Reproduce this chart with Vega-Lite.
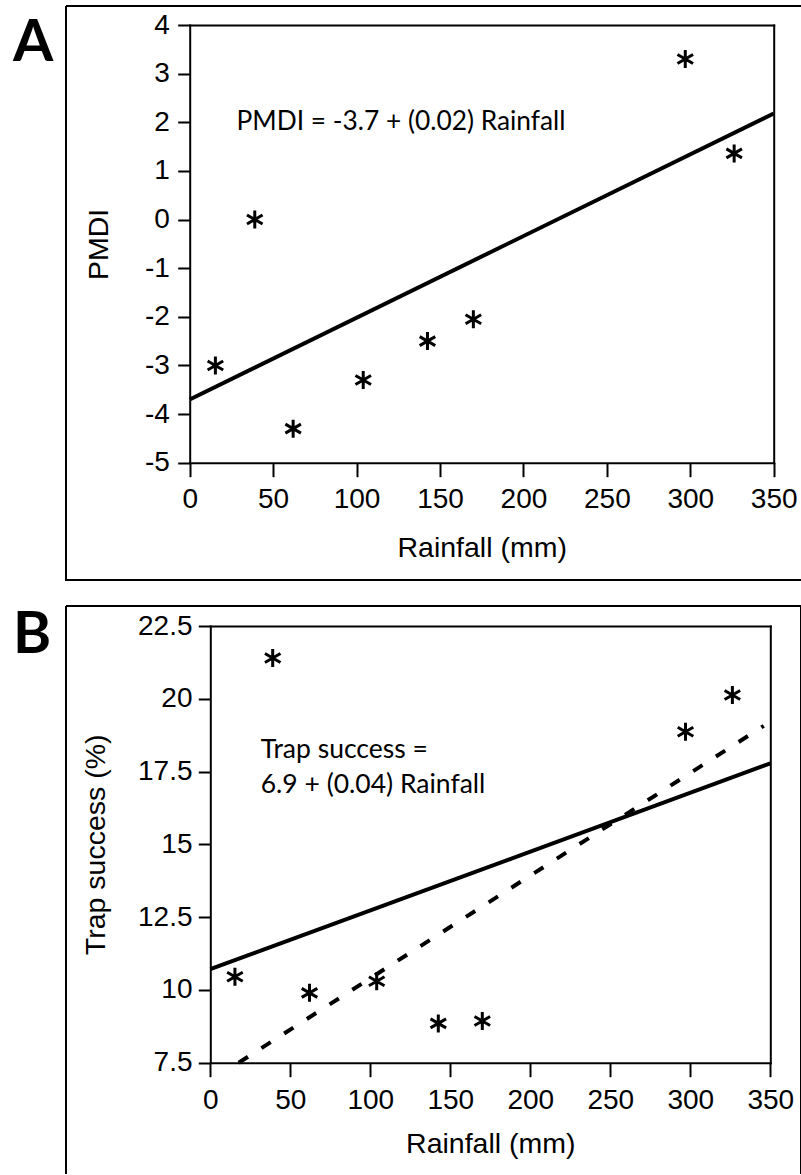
{
  "$schema": "https://vega.github.io/schema/vega-lite/v6.json",
  "background": "white",
  "padding": {"left": 11, "top": 5, "right": 0, "bottom": 0},
  "spacing": 26,
  "bounds": "flush",
  "datasets": {
    "pointsA": [
      {"rainfall": 15.4, "value": -3.0},
      {"rainfall": 39, "value": 0.0},
      {"rainfall": 62, "value": -4.3},
      {"rainfall": 104, "value": -3.3},
      {"rainfall": 142.5, "value": -2.5},
      {"rainfall": 170, "value": -2.05},
      {"rainfall": 297, "value": 3.3},
      {"rainfall": 326.3, "value": 1.36}
    ],
    "lineA": [
      {"rainfall": 0, "value": -3.7},
      {"rainfall": 350, "value": 2.18}
    ],
    "pointsB": [
      {"rainfall": 15.4, "value": 10.45},
      {"rainfall": 39, "value": 21.4},
      {"rainfall": 62, "value": 9.9},
      {"rainfall": 104, "value": 10.3},
      {"rainfall": 142.5, "value": 8.85},
      {"rainfall": 170, "value": 8.93},
      {"rainfall": 297, "value": 18.87},
      {"rainfall": 326.3, "value": 20.13}
    ],
    "solidB": [
      {"rainfall": 0, "value": 10.71},
      {"rainfall": 350, "value": 17.78}
    ],
    "dashB": [
      {"rainfall": 17.75, "value": 7.5},
      {"rainfall": 345.9, "value": 19.07}
    ]
  },
  "config": {
    "font": "Liberation Sans",
    "axis": {
      "domainColor": "black",
      "domainWidth": 2,
      "domainCap": "square",
      "tickColor": "black",
      "tickWidth": 2,
      "labelColor": "black",
      "labelFont": "Liberation Sans",
      "labelFontSize": 28,
      "titleFont": "Liberation Sans",
      "titleFontSize": 28.5,
      "titleFontWeight": "normal",
      "titleColor": "black",
      "grid": false,
      "labelFlush": false,
      "labelOverlap": false
    }
  },
  "vconcat": [
    {
      "width": 736,
      "height": 574,
      "view": {"stroke": "black", "strokeWidth": 2, "strokeDash": [736, 574, 1310, 0]},
      "layer": [
        {
          "data": {"name": "pointsA"},
          "mark": {"type": "point", "shape": "M0,-1L0,1M-0.866,-0.5L0.866,0.5M-0.866,0.5L0.866,-0.5", "filled": false, "stroke": "black", "strokeWidth": 3, "size": 324, "opacity": 1},
          "encoding": {
            "x": {"field": "rainfall", "type": "quantitative",
              "scale": {"domain": [0, 350], "range": [123.7, 707.7], "nice": false, "zero": false},
              "axis": {"orient": "bottom", "offset": -117.3, "values": [0, 50, 100, 150, 200, 250, 300, 350], "tickSize": 14, "labelPadding": 30.3, "labelBaseline": "alphabetic", "labelExpr": "'' + datum.value", "title": "Rainfall (mm)", "titleY": 93.3, "titleBaseline": "alphabetic"}},
            "y": {"field": "value", "type": "quantitative",
              "scale": {"domain": [-5, 4], "range": [456.7, 19], "nice": false, "zero": false},
              "axis": {"orient": "left", "offset": -123.7, "values": [-5, -4, -3, -2, -1, 0, 1, 2, 3, 4], "tickSize": 12, "labelPadding": 8.4, "labelExpr": "'' + datum.value", "title": "PMDI", "titleX": -82, "titleBaseline": "alphabetic"}}
          }
        },
        {
          "data": {"name": "lineA"},
          "mark": {"type": "line", "color": "black", "strokeWidth": 4},
          "encoding": {
            "x": {"field": "rainfall", "type": "quantitative",
              "scale": {"domain": [0, 350], "range": [123.7, 707.7], "nice": false, "zero": false},
              "axis": {"orient": "top", "offset": -19, "labels": false, "ticks": false, "title": null}},
            "y": {"field": "value", "type": "quantitative",
              "scale": {"domain": [-5, 4], "range": [456.7, 19], "nice": false, "zero": false},
              "axis": {"orient": "right", "offset": -28.3, "labels": false, "ticks": false, "title": null}}
          }
        },
        {
          "data": {"values": [{}]},
          "mark": {"type": "text", "text": "PMDI = -3.7 + (0.02) Rainfall", "font": "Lato", "fontSize": 26.3, "align": "left", "baseline": "alphabetic", "color": "black"},
          "encoding": {
            "x": {"datum": 28.0, "type": "quantitative", "axis": null},
            "y": {"datum": 1.84, "type": "quantitative", "axis": null}
          }
        },
        {
          "data": {"values": [{}]},
          "mark": {"type": "text", "text": "A", "font": "Lato", "fontWeight": "bold", "fontSize": 58, "align": "left", "baseline": "alphabetic", "color": "black"},
          "encoding": {
            "x": {"datum": -105.9, "type": "quantitative", "axis": null},
            "y": {"datum": 3.25, "type": "quantitative", "axis": null}
          }
        }
      ],
      "resolve": {"axis": {"x": "independent", "y": "independent"}}
    },
    {
      "width": 735,
      "height": 568,
      "view": {"stroke": "black", "strokeWidth": 2, "strokeDash": [1303, 735, 568, 0]},
      "layer": [
        {
          "data": {"name": "pointsB"},
          "mark": {"type": "point", "shape": "M0,-1L0,1M-0.866,-0.5L0.866,0.5M-0.866,0.5L0.866,-0.5", "filled": false, "stroke": "black", "strokeWidth": 3, "size": 324, "opacity": 1},
          "encoding": {
            "x": {"field": "rainfall", "type": "quantitative",
              "scale": {"domain": [0, 350], "range": [144.3, 704.3], "nice": false, "zero": false},
              "axis": {"orient": "bottom", "offset": -111.3, "values": [0, 50, 100, 150, 200, 250, 300, 350], "tickSize": 14, "labelPadding": 31.6, "labelBaseline": "alphabetic", "labelExpr": "'' + datum.value", "title": "Rainfall (mm)", "titleY": 90, "titleBaseline": "alphabetic"}},
            "y": {"field": "value", "type": "quantitative",
              "scale": {"domain": [7.5, 22.5], "range": [456.7, 20], "nice": false, "zero": false},
              "axis": {"orient": "left", "offset": -144.3, "values": [7.5, 10, 12.5, 15, 17.5, 20, 22.5], "tickSize": 12, "labelPadding": 6.3, "labelExpr": "'' + datum.value", "title": "Trap success (%)", "titleX": -106.3, "titleBaseline": "alphabetic"}}
          }
        },
        {
          "data": {"name": "solidB"},
          "mark": {"type": "line", "color": "black", "strokeWidth": 4},
          "encoding": {
            "x": {"field": "rainfall", "type": "quantitative",
              "scale": {"domain": [0, 350], "range": [144.3, 704.3], "nice": false, "zero": false},
              "axis": {"orient": "top", "offset": -20, "labels": false, "ticks": false, "title": null}},
            "y": {"field": "value", "type": "quantitative",
              "scale": {"domain": [7.5, 22.5], "range": [456.7, 20], "nice": false, "zero": false},
              "axis": {"orient": "right", "offset": -30.7, "labels": false, "ticks": false, "title": null}}
          }
        },
        {
          "data": {"name": "dashB"},
          "mark": {"type": "line", "color": "black", "strokeWidth": 4, "strokeDash": [11, 16]},
          "encoding": {
            "x": {"field": "rainfall", "type": "quantitative", "axis": null},
            "y": {"field": "value", "type": "quantitative", "axis": null}
          }
        },
        {
          "data": {"values": [{}]},
          "mark": {"type": "text", "text": ["Trap success =", "6.9 + (0.04) Rainfall"], "font": "Lato", "fontSize": 26.5, "lineHeight": 35, "align": "left", "baseline": "alphabetic", "color": "black"},
          "encoding": {
            "x": {"datum": 31.5, "type": "quantitative", "axis": null},
            "y": {"datum": 17.97, "type": "quantitative", "axis": null}
          }
        },
        {
          "data": {"values": [{}]},
          "mark": {"type": "text", "text": "B", "font": "Lato", "fontWeight": "bold", "fontSize": 58, "align": "left", "baseline": "alphabetic", "color": "black"},
          "encoding": {
            "x": {"datum": -123.3, "type": "quantitative", "axis": null},
            "y": {"datum": 21.56, "type": "quantitative", "axis": null}
          }
        }
      ],
      "resolve": {"axis": {"x": "independent", "y": "independent"}}
    }
  ]
}
